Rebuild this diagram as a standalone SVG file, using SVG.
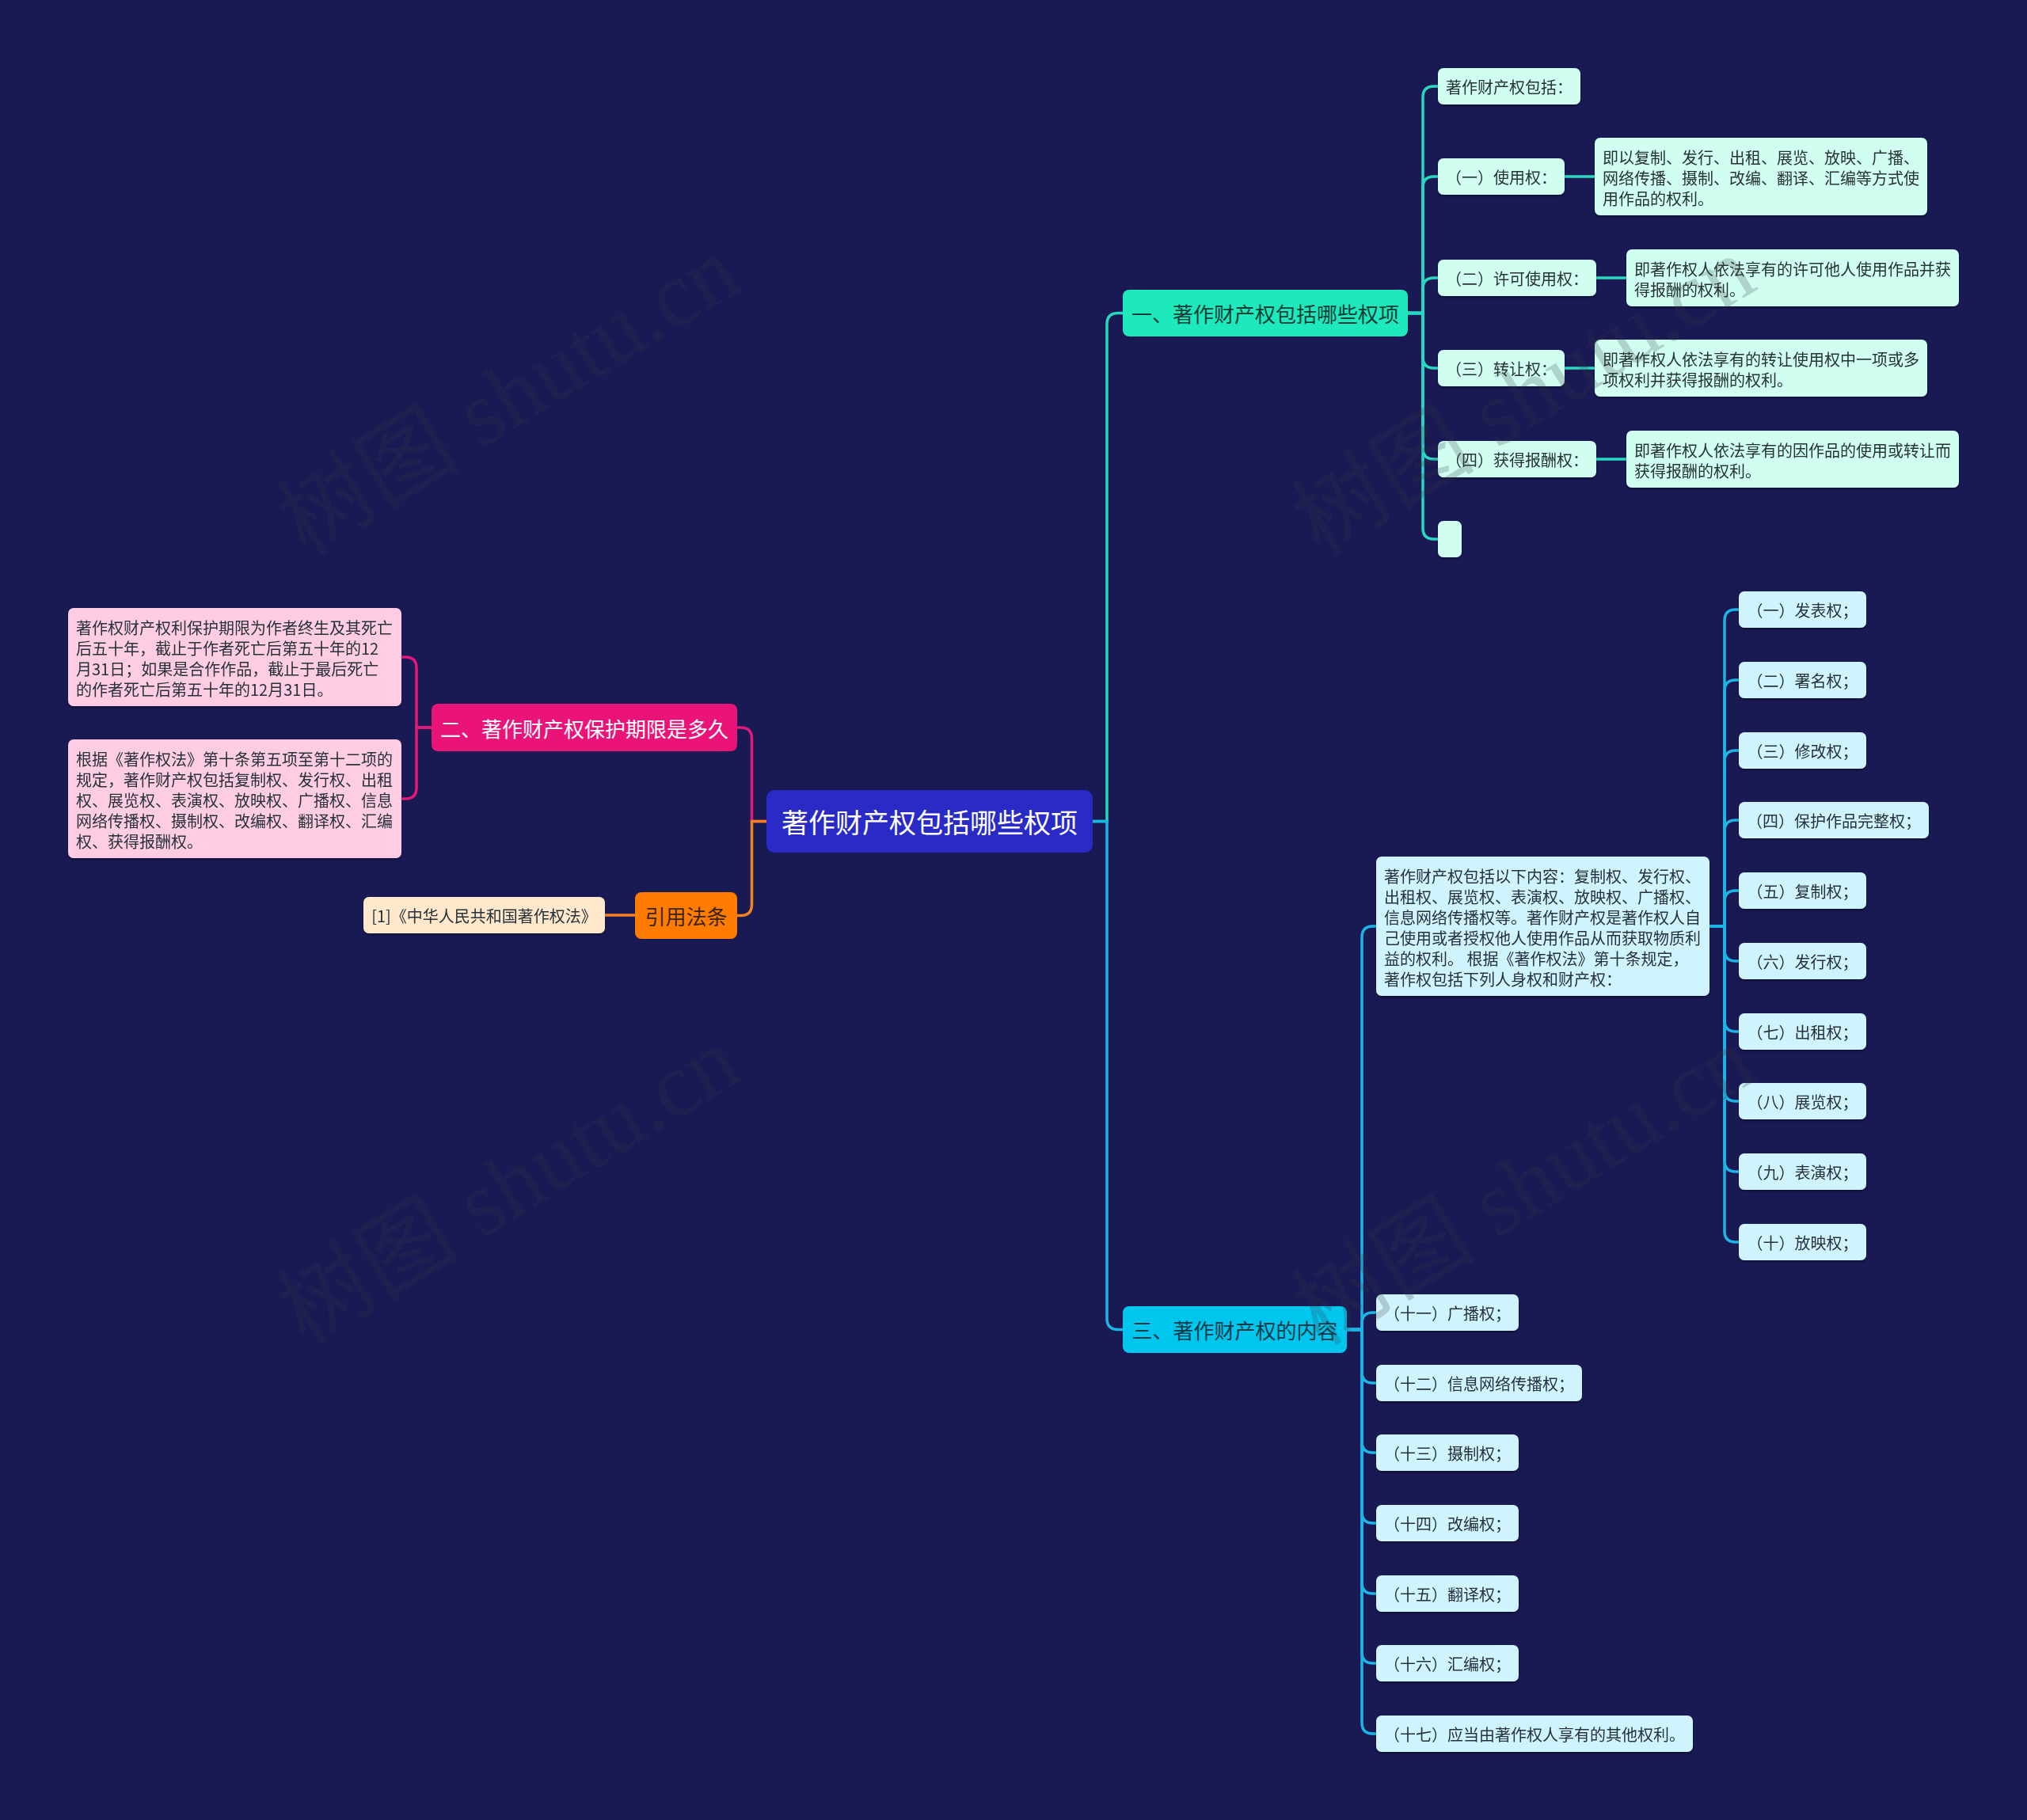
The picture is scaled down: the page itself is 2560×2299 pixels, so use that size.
<svg xmlns="http://www.w3.org/2000/svg" width="2560" height="2299" viewBox="0 0 2560 2299">
<defs>
<style>
text{font-family:"Noto Sans CJK SC","Noto Sans",sans-serif;}
.t20{font-size:20px;fill:#263238;}
.t26{font-size:26px;}
.mid{text-anchor:middle;dominant-baseline:central;}
.ln{font-size:20px;fill:#263238;dominant-baseline:central;}
.e{fill:none;stroke-width:3.5;stroke-linecap:round;}
.eT{stroke:#27d9c0;}
.eB{stroke:#1db4e6;}
.eP{stroke:#e0197a;}
.eO{stroke:#f28223;}
.nT{fill:#1de9bd;}
.nTl{fill:#d0fff1;}
.nB{fill:#00c6ee;}
.nBl{fill:#cff4fd;}
.nP{fill:#ea1478;}
.nPl{fill:#ffcde3;}
.nO{fill:#ff7c00;}
.nOl{fill:#ffe8cc;}
.wm{font-family:"Liberation Serif","Noto Sans CJK SC",serif;font-size:116px;fill:#3a3a48;opacity:0.22;}
</style>
<filter id="sh" x="-5%" y="-10%" width="110%" height="130%">
<feDropShadow dx="0" dy="2" stdDeviation="1" flood-color="#000" flood-opacity="0.35"/>
</filter>
</defs>
<rect x="0" y="0" width="2560" height="2299" fill="#191953"/>

<g id="connectors">
<path class="e eT" d="M1380,1037.5 H1398 V409.5 Q1398,395.5 1412,395.5 H1418"/>
<path class="e eB" d="M1380,1037.5 H1398 V1665.5 Q1398,1679.5 1412,1679.5 H1418"/>
<path class="e eP" d="M968,1037.5 H949.5 V933 Q949.5,919 935.5,919 H931"/>
<path class="e eO" d="M968,1037.5 H949.5 V1142.5 Q949.5,1156.5 935.5,1156.5 H931"/>
<path class="e eP" d="M545,919 H526 V844 Q526,830 512,830 H507"/>
<path class="e eP" d="M545,919 H526 V995 Q526,1009 512,1009 H507"/>
<path class="e eO" d="M802,1156 H764"/>
<path class="e eT" d="M1778,395.5 H1797 V123 Q1797,109 1811,109 H1816"/>
<path class="e eT" d="M1778,395.5 H1797 V237 Q1797,223 1811,223 H1816"/>
<path class="e eT" d="M1778,395.5 H1797 V365 Q1797,351 1811,351 H1816"/>
<path class="e eT" d="M1778,395.5 H1797 V451 Q1797,465 1811,465 H1816"/>
<path class="e eT" d="M1778,395.5 H1797 V566 Q1797,580 1811,580 H1816"/>
<path class="e eT" d="M1778,395.5 H1797 V667 Q1797,681 1811,681 H1816"/>
<path class="e eT" d="M1976,223 H2014"/>
<path class="e eT" d="M2016,351 H2054"/>
<path class="e eT" d="M1976,465 H2014"/>
<path class="e eT" d="M2016,580 H2054"/>
<path class="e eB" d="M1701,1679.5 H1720 V1184 Q1720,1170 1734,1170 H1738"/>
<path class="e eB" d="M1701,1679.5 H1720 V1672 Q1720,1658 1734,1658 H1738"/>
<path class="e eB" d="M1701,1679.5 H1720 V1733 Q1720,1747 1734,1747 H1738"/>
<path class="e eB" d="M1701,1679.5 H1720 V1821 Q1720,1835 1734,1835 H1738"/>
<path class="e eB" d="M1701,1679.5 H1720 V1910 Q1720,1924 1734,1924 H1738"/>
<path class="e eB" d="M1701,1679.5 H1720 V1999 Q1720,2013 1734,2013 H1738"/>
<path class="e eB" d="M1701,1679.5 H1720 V2087 Q1720,2101 1734,2101 H1738"/>
<path class="e eB" d="M1701,1679.5 H1720 V2176 Q1720,2190 1734,2190 H1738"/>
<path class="e eB" d="M2159,1170 H2178 V784 Q2178,770 2192,770 H2196"/>
<path class="e eB" d="M2159,1170 H2178 V873 Q2178,859 2192,859 H2196"/>
<path class="e eB" d="M2159,1170 H2178 V962 Q2178,948 2192,948 H2196"/>
<path class="e eB" d="M2159,1170 H2178 V1050 Q2178,1036 2192,1036 H2196"/>
<path class="e eB" d="M2159,1170 H2178 V1139 Q2178,1125 2192,1125 H2196"/>
<path class="e eB" d="M2159,1170 H2178 V1200 Q2178,1214 2192,1214 H2196"/>
<path class="e eB" d="M2159,1170 H2178 V1289 Q2178,1303 2192,1303 H2196"/>
<path class="e eB" d="M2159,1170 H2178 V1377 Q2178,1391 2192,1391 H2196"/>
<path class="e eB" d="M2159,1170 H2178 V1466 Q2178,1480 2192,1480 H2196"/>
<path class="e eB" d="M2159,1170 H2178 V1555 Q2178,1569 2192,1569 H2196"/>
</g>

<g id="root">
<rect x="968" y="998" width="412" height="79" rx="10" fill="#2a2bc6"/>
<text class="mid" x="1174" y="1037.5" style="font-size:34px;fill:#ffffff">著作财产权包括哪些权项</text>
</g>

<g id="n1">
<rect class="nT" x="1418" y="366" width="360" height="59" rx="8"/>
<text class="mid t26" x="1598" y="395.5" style="fill:#0f3d36">一、著作财产权包括哪些权项</text>
</g>
<g id="n1a" filter="url(#sh)">
<rect class="nTl" x="1816" y="86" width="180" height="46" rx="7"/>
<text class="mid t20" x="1906" y="109">著作财产权包括：</text>
</g>
<g id="n1b" filter="url(#sh)">
<rect class="nTl" x="1816" y="200" width="160" height="46" rx="7"/>
<text class="mid t20" x="1896" y="223">（一）使用权：</text>
</g>
<g id="n1b1" filter="url(#sh)">
<rect class="nTl" x="2014" y="174" width="420" height="98" rx="7"/>
<text class="ln" x="2024" y="198">即以复制、发行、出租、展览、放映、广播、</text>
<text class="ln" x="2024" y="224">网络传播、摄制、改编、翻译、汇编等方式使</text>
<text class="ln" x="2024" y="250">用作品的权利。</text>
</g>
<g id="n1c" filter="url(#sh)">
<rect class="nTl" x="1816" y="328" width="200" height="46" rx="7"/>
<text class="mid t20" x="1916" y="351">（二）许可使用权：</text>
</g>
<g id="n1c1" filter="url(#sh)">
<rect class="nTl" x="2054" y="315" width="420" height="72" rx="7"/>
<text class="ln" x="2064" y="339">即著作权人依法享有的许可他人使用作品并获</text>
<text class="ln" x="2064" y="365">得报酬的权利。</text>
</g>
<g id="n1d" filter="url(#sh)">
<rect class="nTl" x="1816" y="442" width="160" height="46" rx="7"/>
<text class="mid t20" x="1896" y="465">（三）转让权：</text>
</g>
<g id="n1d1" filter="url(#sh)">
<rect class="nTl" x="2014" y="429" width="420" height="72" rx="7"/>
<text class="ln" x="2024" y="453">即著作权人依法享有的转让使用权中一项或多</text>
<text class="ln" x="2024" y="479">项权利并获得报酬的权利。</text>
</g>
<g id="n1e" filter="url(#sh)">
<rect class="nTl" x="1816" y="557" width="200" height="46" rx="7"/>
<text class="mid t20" x="1916" y="580">（四）获得报酬权：</text>
</g>
<g id="n1e1" filter="url(#sh)">
<rect class="nTl" x="2054" y="544" width="420" height="72" rx="7"/>
<text class="ln" x="2064" y="568">即著作权人依法享有的因作品的使用或转让而</text>
<text class="ln" x="2064" y="594">获得报酬的权利。</text>
</g>
<g id="n1f" filter="url(#sh)">
<rect class="nTl" x="1816" y="658" width="30" height="46" rx="7"/>
</g>

<g id="n2">
<rect class="nP" x="545" y="889" width="386" height="60" rx="8"/>
<text class="mid t26" x="738" y="919" style="fill:#ffffff">二、著作财产权保护期限是多久</text>
</g>
<g id="n2a" filter="url(#sh)">
<rect class="nPl" x="86" y="768" width="421" height="124" rx="7"/>
<text class="ln" x="96" y="792">著作权财产权利保护期限为作者终生及其死亡</text>
<text class="ln" x="96" y="818">后五十年，截止于作者死亡后第五十年的12</text>
<text class="ln" x="96" y="844">月31日；如果是合作作品，截止于最后死亡</text>
<text class="ln" x="96" y="870">的作者死亡后第五十年的12月31日。</text>
</g>
<g id="n2b" filter="url(#sh)">
<rect class="nPl" x="86" y="934" width="421" height="150" rx="7"/>
<text class="ln" x="96" y="958">根据《著作权法》第十条第五项至第十二项的</text>
<text class="ln" x="96" y="984">规定，著作财产权包括复制权、发行权、出租</text>
<text class="ln" x="96" y="1010">权、展览权、表演权、放映权、广播权、信息</text>
<text class="ln" x="96" y="1036">网络传播权、摄制权、改编权、翻译权、汇编</text>
<text class="ln" x="96" y="1062">权、获得报酬权。</text>
</g>

<g id="n4">
<rect class="nO" x="802" y="1127" width="129" height="59" rx="8"/>
<text class="mid t26" x="866.5" y="1156.5" style="fill:#3b2410">引用法条</text>
</g>
<g id="n4a" filter="url(#sh)">
<rect class="nOl" x="459" y="1133" width="305" height="46" rx="7"/>
<text class="mid t20" x="611.5" y="1156">[1]《中华人民共和国著作权法》</text>
</g>

<g id="n3">
<rect class="nB" x="1418" y="1650" width="283" height="59" rx="8"/>
<text class="mid t26" x="1559.5" y="1679.5" style="fill:#0b3a48">三、著作财产权的内容</text>
</g>
<g id="n3a" filter="url(#sh)">
<rect class="nBl" x="1738" y="1082" width="421" height="176" rx="7"/>
<text class="ln" x="1748" y="1106">著作财产权包括以下内容：复制权、发行权、</text>
<text class="ln" x="1748" y="1132">出租权、展览权、表演权、放映权、广播权、</text>
<text class="ln" x="1748" y="1158">信息网络传播权等。著作财产权是著作权人自</text>
<text class="ln" x="1748" y="1184">己使用或者授权他人使用作品从而获取物质利</text>
<text class="ln" x="1748" y="1210">益的权利。 根据《著作权法》第十条规定，</text>
<text class="ln" x="1748" y="1236">著作权包括下列人身权和财产权：</text>
</g>
<g id="n3a1" filter="url(#sh)"><rect class="nBl" x="2196" y="747" width="161" height="46" rx="7"/><text class="mid t20" x="2276.5" y="770">（一）发表权；</text></g>
<g id="n3a2" filter="url(#sh)"><rect class="nBl" x="2196" y="836" width="161" height="46" rx="7"/><text class="mid t20" x="2276.5" y="859">（二）署名权；</text></g>
<g id="n3a3" filter="url(#sh)"><rect class="nBl" x="2196" y="925" width="161" height="46" rx="7"/><text class="mid t20" x="2276.5" y="948">（三）修改权；</text></g>
<g id="n3a4" filter="url(#sh)"><rect class="nBl" x="2196" y="1013" width="240" height="46" rx="7"/><text class="mid t20" x="2316" y="1036">（四）保护作品完整权；</text></g>
<g id="n3a5" filter="url(#sh)"><rect class="nBl" x="2196" y="1102" width="161" height="46" rx="7"/><text class="mid t20" x="2276.5" y="1125">（五）复制权；</text></g>
<g id="n3a6" filter="url(#sh)"><rect class="nBl" x="2196" y="1191" width="161" height="46" rx="7"/><text class="mid t20" x="2276.5" y="1214">（六）发行权；</text></g>
<g id="n3a7" filter="url(#sh)"><rect class="nBl" x="2196" y="1280" width="161" height="46" rx="7"/><text class="mid t20" x="2276.5" y="1303">（七）出租权；</text></g>
<g id="n3a8" filter="url(#sh)"><rect class="nBl" x="2196" y="1368" width="161" height="46" rx="7"/><text class="mid t20" x="2276.5" y="1391">（八）展览权；</text></g>
<g id="n3a9" filter="url(#sh)"><rect class="nBl" x="2196" y="1457" width="161" height="46" rx="7"/><text class="mid t20" x="2276.5" y="1480">（九）表演权；</text></g>
<g id="n3a10" filter="url(#sh)"><rect class="nBl" x="2196" y="1546" width="161" height="46" rx="7"/><text class="mid t20" x="2276.5" y="1569">（十）放映权；</text></g>
<g id="n3b" filter="url(#sh)"><rect class="nBl" x="1738" y="1635" width="180" height="46" rx="7"/><text class="mid t20" x="1828" y="1658">（十一）广播权；</text></g>
<g id="n3c" filter="url(#sh)"><rect class="nBl" x="1738" y="1724" width="260" height="46" rx="7"/><text class="mid t20" x="1868" y="1747">（十二）信息网络传播权；</text></g>
<g id="n3d" filter="url(#sh)"><rect class="nBl" x="1738" y="1812" width="180" height="46" rx="7"/><text class="mid t20" x="1828" y="1835">（十三）摄制权；</text></g>
<g id="n3e" filter="url(#sh)"><rect class="nBl" x="1738" y="1901" width="180" height="46" rx="7"/><text class="mid t20" x="1828" y="1924">（十四）改编权；</text></g>
<g id="n3f" filter="url(#sh)"><rect class="nBl" x="1738" y="1990" width="180" height="46" rx="7"/><text class="mid t20" x="1828" y="2013">（十五）翻译权；</text></g>
<g id="n3g" filter="url(#sh)"><rect class="nBl" x="1738" y="2078" width="180" height="46" rx="7"/><text class="mid t20" x="1828" y="2101">（十六）汇编权；</text></g>
<g id="n3h" filter="url(#sh)"><rect class="nBl" x="1738" y="2167" width="400" height="46" rx="7"/><text class="mid t20" x="1938" y="2190">（十七）应当由著作权人享有的其他权利。</text></g>

<g id="watermark">
<text class="wm" transform="translate(385,703) rotate(-31.4)">树图 shutu.cn</text>
<text class="wm" transform="translate(1667,703) rotate(-31.4)">树图 shutu.cn</text>
<text class="wm" transform="translate(385,1701) rotate(-31.4)">树图 shutu.cn</text>
<text class="wm" transform="translate(1667,1701) rotate(-31.4)">树图 shutu.cn</text>
</g>
</svg>
